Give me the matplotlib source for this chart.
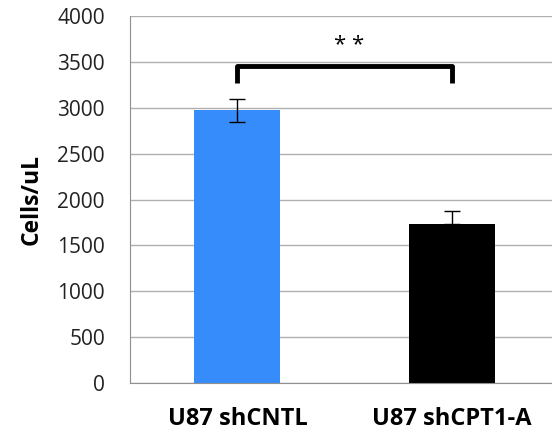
import numpy as np
import matplotlib.pyplot as plt

groups = ['U87 shCNTL', 'U87 shCPT1-A']
cells = [2975, 1730]
err_low = [125, 0]
err_high = [120, 150]
colors = ['#368cfa', '#000000']

plt.rcParams['font.family'] = ['Open Sans', 'DejaVu Sans']

fig = plt.figure(figsize=(5.52, 4.33), dpi=100)
ax = fig.add_axes([0.2355, 0.1155, 0.7645, 0.8475])

x = np.arange(len(groups))
ax.bar(x, cells, width=0.4, color=colors, zorder=2)
ax.errorbar(x, cells, yerr=[err_low, err_high], fmt='none', ecolor='black',
            elinewidth=1, capsize=6, capthick=1, zorder=3)

# significance bracket between the two bars
y_br, h_br = 3270, 190
ax.plot([x[0], x[0], x[1], x[1]], [y_br, y_br + h_br, y_br + h_br, y_br],
        color='black', lw=3.5, solid_joinstyle='round', solid_capstyle='butt', zorder=3)
ax.text((x[0] + x[1]) / 2 + 0.02, 3560, '* *', ha='center', va='bottom', fontsize=16)

ax.set_xlim(-0.5, 1.465)
ax.set_ylim(0, 4000)
ax.set_yticks(np.arange(0, 4001, 500))
ax.yaxis.grid(True, color='#b0b0b0', lw=1, zorder=0)
ax.set_xticks(x)
ax.set_xticklabels(groups, fontsize=17, fontweight='bold')
ax.tick_params(axis='x', length=0, pad=17)
ax.tick_params(axis='y', length=0, pad=18, labelsize=15, labelcolor='#222222')
ax.set_ylabel('Cells/uL', fontsize=16.5, fontweight='bold', labelpad=10)

for s in ['top', 'right']:
    ax.spines[s].set_visible(False)
ax.spines['left'].set_color('#909090')
ax.spines['bottom'].set_color('#909090')

fig.savefig('out.png', dpi=100)
